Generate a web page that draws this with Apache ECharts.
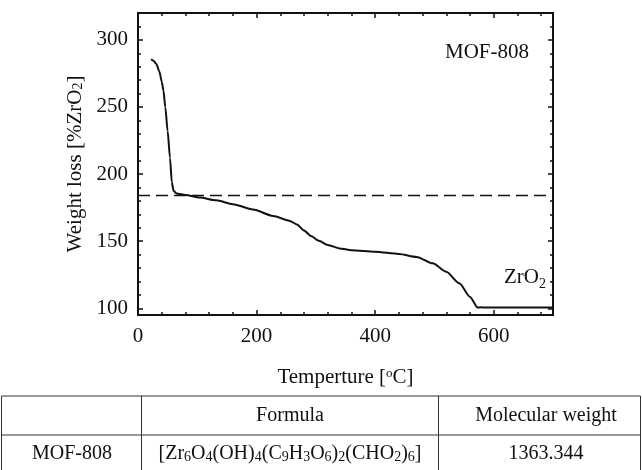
<!DOCTYPE html>
<html>
<head>
<meta charset="utf-8">
<script src="https://cdn.jsdelivr.net/npm/echarts@6/dist/echarts.min.js"></script>
<style>
html,body{margin:0;padding:0;background:#fff;}
#chart{width:642px;height:470px;}
</style>
</head>
<body>
<div id="chart"></div>
<script>
// ---- data ----
const temperature = [22, 26, 31, 36, 40, 43, 46, 50, 54, 57, 60, 65, 80, 104, 132, 160, 194, 228, 255, 268, 280, 292, 305, 320, 340, 360, 400, 440, 470, 497, 520, 542, 560, 573, 578, 585, 700];
const weightLoss  = [285.5, 284.5, 282, 276.5, 269, 262, 250, 232, 212, 194, 187.5, 185.6, 184.4, 182.5, 180.4, 177.6, 173.6, 168.8, 165.3, 162.5, 158, 153.8, 150.3, 147.2, 144.6, 143.3, 142.2, 140.5, 138.3, 133.5, 127.2, 118.6, 108.5, 100.5, 100.8, 100.5, 100.5];
const referenceLevel = 184.4; // dashed line (MOF-808 / 6 ZrO2)
const xTicksMajor = [0, 200, 400, 600];
const xTicksMinor = [40, 80, 120, 160, 240, 280, 320, 360, 440, 480, 520, 560, 640, 680];
const yTicksMajor = [100, 150, 200, 250, 300];
const yTicksMinor = [110, 120, 130, 140, 160, 170, 180, 190, 210, 220, 230, 240, 260, 270, 280, 290, 310];
const xRange = [0, 700];
const yRange = [95, 320];
const tableHeader = ['', 'Formula', 'Molecular weight'];
const tableRow = ['MOF-808', '[Zr{s|6}O{s|4}(OH){s|4}(C{s|9}H{s|3}O{s|6}){s|2}(CHO{s|2}){s|6}]', '1363.344'];
const sampleLabel = 'MOF-808';
const residueLabel = 'ZrO{s|2}';

// ---- styling ----
const FF = 'Liberation Serif';
const FS = 21;
const richSub = {
  n: {fontFamily: FF, fontSize: FS, color: '#111', lineHeight: 28},
  s: {fontFamily: FF, fontSize: 14, color: '#111', lineHeight: 14, verticalAlign: 'bottom'},
  sup: {fontFamily: FF, fontSize: 13, color: '#111', lineHeight: 14, verticalAlign: 'top'}
};
const gridBox = {left: 138, right: 89, top: 13, bottom: 155};

function xAx(grid, pos, ticks, len, main) {
  return {
    gridIndex: grid, type: 'value', position: pos, min: xRange[0], max: xRange[1],
    axisLine: {show: main, onZero: false, lineStyle: {color: '#111', width: 2}},
    axisTick: {show: true, inside: true, length: len, customValues: ticks, lineStyle: {color: '#111', width: 1.5}},
    axisLabel: {show: main && pos === 'bottom', customValues: xTicksMajor, fontFamily: FF, fontSize: FS, color: '#111', margin: 11},
    splitLine: {show: false}
  };
}
function yAx(grid, pos, ticks, len, main) {
  return {
    gridIndex: grid, type: 'value', position: pos, min: yRange[0], max: yRange[1],
    axisLine: {show: main, onZero: false, lineStyle: {color: '#111', width: 2}},
    axisTick: {show: true, inside: true, length: len, customValues: ticks, lineStyle: {color: '#111', width: 1.5}},
    axisLabel: {show: main && pos === 'left', customValues: yTicksMajor, fontFamily: FF, fontSize: FS, color: '#111', margin: 10},
    splitLine: {show: false}
  };
}

const xA0 = xAx(0, 'bottom', xTicksMajor, 5, true);
xA0.name = 'Temperture [{sup|o}C]';
xA0.nameLocation = 'middle';
xA0.nameGap = 52;
xA0.nameTextStyle = {fontFamily: FF, fontSize: FS, color: '#111', rich: richSub};
const yA0 = yAx(0, 'left', yTicksMajor, 5, true);
yA0.name = 'Weight loss [%ZrO{s|2}]';
yA0.nameLocation = 'middle';
yA0.nameGap = 52;
yA0.nameTextStyle = {fontFamily: FF, fontSize: FS, color: '#111', rich: richSub};

// table graphics
const tTop = 396, tMid = 435, tBot = 476;
const cols = [1.5, 141.5, 438.5, 640.5];
const colCenters = [72, 290, 546];
const g = [];
function hline(y, x1, x2) { g.push({type: 'line', shape: {x1: x1, y1: y, x2: x2, y2: y}, style: {stroke: '#333', lineWidth: 1}}); }
function vline(x, y1, y2) { g.push({type: 'line', shape: {x1: x, y1: y1, x2: x, y2: y2}, style: {stroke: '#333', lineWidth: 1}}); }
hline(tTop, cols[0], cols[3]);
hline(tMid, cols[0], cols[3]);
hline(tBot, cols[0], cols[3]);
cols.forEach(c => vline(c, tTop, tBot));
function cellText(txt, cx, cy) {
  g.push({type: 'text', x: cx, y: cy, style: {text: txt, align: 'center', verticalAlign: 'middle',
    fontFamily: FF, fontSize: 20, fill: '#111',
    rich: {s: {fontFamily: FF, fontSize: 14, fill: '#111', lineHeight: 14, verticalAlign: 'bottom'}}}});
}
tableHeader.forEach((t, i) => { if (t) cellText(t, colCenters[i], 416); });
tableRow.forEach((t, i) => cellText(t, colCenters[i], 454));

// annotations
g.push({type: 'text', x: 487, y: 52, style: {text: sampleLabel, align: 'center', verticalAlign: 'middle', fontFamily: FF, fontSize: FS, fill: '#111'}});
g.push({type: 'text', x: 546, y: 277, style: {text: '{n|' + residueLabel.replace('{s|2}', '}{s|2}'), align: 'right', verticalAlign: 'middle',
  rich: {n: {fontFamily: FF, fontSize: FS, fill: '#111', lineHeight: 28}, s: {fontFamily: FF, fontSize: 14, fill: '#111', lineHeight: 14, verticalAlign: 'bottom'}}}});

const chart = echarts.init(document.getElementById('chart'), null, {renderer: 'canvas'});
chart.setOption({
  animation: false,
  backgroundColor: '#fff',
  grid: [Object.assign({}, gridBox), Object.assign({}, gridBox)],
  xAxis: [xA0, xAx(0, 'top', xTicksMajor, 5, true), xAx(1, 'bottom', xTicksMinor, 3, false), xAx(1, 'top', xTicksMinor, 3, false)],
  yAxis: [yA0, yAx(0, 'right', yTicksMajor, 5, true), yAx(1, 'left', yTicksMinor, 3, false), yAx(1, 'right', yTicksMinor, 3, false)],
  series: [{
    type: 'line', xAxisIndex: 0, yAxisIndex: 0,
    data: temperature.map((t, i) => [t, weightLoss[i]]),
    showSymbol: false, smooth: 0.25, smoothMonotone: 'x',
    lineStyle: {color: '#111', width: 2},
    markLine: {silent: true, symbol: ['none', 'none'], label: {show: false},
      lineStyle: {color: '#111', width: 1.3, type: [12, 6]},
      data: [{yAxis: referenceLevel}]}
  }],
  graphic: g
});
</script>
</body>
</html>
